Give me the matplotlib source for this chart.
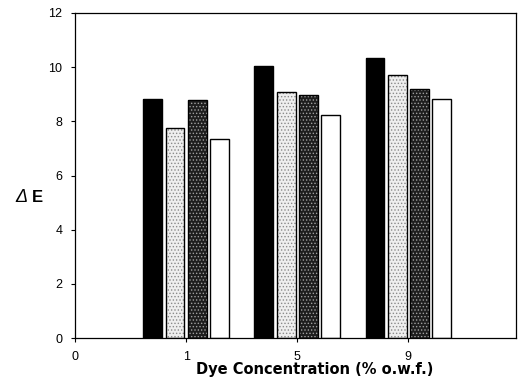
import matplotlib.pyplot as plt
import numpy as np

plt.rcParams['font.family'] = ['Liberation Sans', 'DejaVu Sans']
plt.rcParams['hatch.linewidth'] = 0.6

# data
concentrations = ['1', '5', '9']
series_a = [8.83, 10.04, 10.33]   # black
series_b = [7.77, 9.08, 9.70]     # light stipple
series_c = [8.79, 8.99, 9.21]     # dark stipple
series_d = [7.36, 8.23, 8.84]     # white

fig = plt.figure(figsize=(5.22, 3.80), dpi=100)
ax = fig.add_axes([0.1437, 0.1105, 0.845, 0.8553])

x = np.arange(1, len(concentrations) + 1)
w = 0.17
styles = [
    dict(color='black', edgecolor='black', hatch=None),
    dict(color='#eeeeee', edgecolor='#8a8a8a', hatch='.....'),
    dict(color='#1e1e1e', edgecolor='#a0a0a0', hatch='.....'),
    dict(color='white', edgecolor='black', hatch=None),
]
offsets = [-0.3, -0.1, 0.1, 0.3]
for vals, off, st in zip([series_a, series_b, series_c, series_d], offsets, styles):
    ax.bar(x + off, vals, width=w, color=st['color'], hatch=st['hatch'],
           edgecolor=st['edgecolor'], linewidth=0.0, zorder=2)
# black outline on top
for vals, off in zip([series_a, series_b, series_c, series_d], offsets):
    ax.bar(x + off, vals, width=w, fill=False, edgecolor='black', linewidth=1.0, zorder=3)

ax.set_xlim(0, 3.97)
ax.set_ylim(0, 12)
ax.set_yticks(range(0, 13, 2))
ax.set_xticks([0, 1, 2, 3])
ax.set_xticklabels(['0'] + concentrations)
ax.tick_params(axis='both', direction='out', length=3, width=0.8, labelsize=9, pad=6)
for s in ax.spines.values():
    s.set_linewidth(0.9)

ax.set_xlabel('Dye Concentration (% o.w.f.)', fontsize=10.5, fontweight='bold',
              family='DejaVu Sans')
ax.xaxis.set_label_coords(0.544, -0.075)

# y label: italic delta + bold E
fig.text(15 / 522, 1 - 198 / 380, 'Δ', fontsize=13, style='italic', va='center', ha='left')
fig.text(32 / 522, 1 - 198 / 380, 'E', fontsize=12, fontweight='bold', va='center', ha='left')

fig.savefig('out.png', dpi=100)
